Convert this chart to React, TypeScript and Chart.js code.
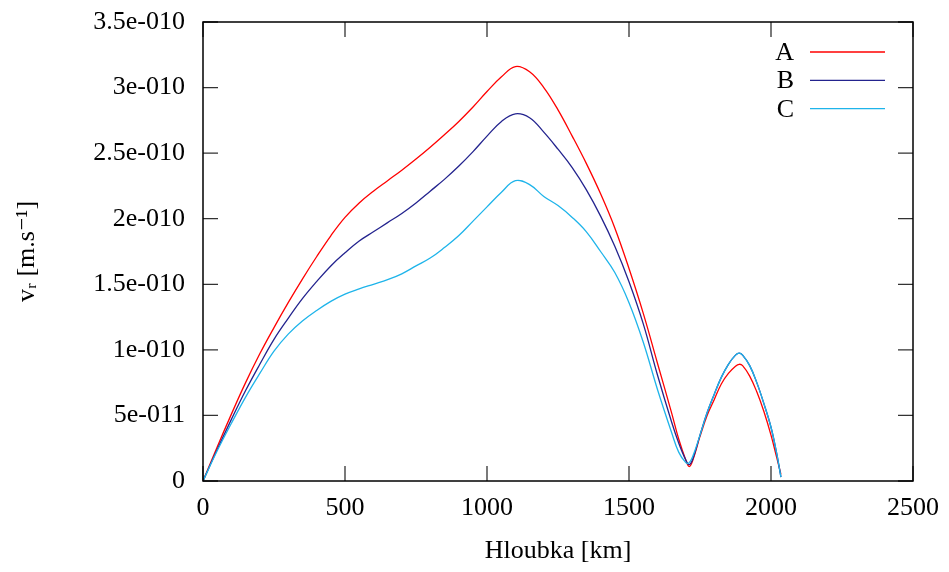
import React, { useEffect, useRef } from 'react';
import { Chart, registerables } from 'chart.js';

Chart.register(...registerables);

// depth in km
const depthKm = [
  0, 50, 100, 150, 200, 250, 300, 350, 400, 450, 500, 550, 600, 650, 700, 750, 800, 850, 900, 950,
  1000, 1050, 1100, 1150, 1200, 1250, 1300, 1350, 1400, 1450, 1500, 1550, 1600, 1650,
  1675, 1700, 1712, 1725, 1750, 1775, 1800, 1825, 1850, 1875, 1888, 1900, 1925, 1950, 1975, 2000, 2020, 2035,
];

// radial velocity values, in units of 1e-11 m/s
const seriesA = [
  0, 2.6, 5.1, 7.5, 9.7, 11.7, 13.6, 15.4, 17.1, 18.7, 20.1, 21.2, 22.1, 22.9, 23.7, 24.55, 25.45, 26.4, 27.4, 28.5,
  29.7, 30.8, 31.6, 31.2, 30.0, 28.3, 26.3, 24.2, 21.9, 19.3, 16.2, 12.8, 9.0, 5.2,
  3.2, 1.6, 1.1, 1.6, 3.4, 5.0, 6.2, 7.4, 8.2, 8.75, 8.9, 8.8, 8.0, 6.8, 5.3, 3.5, 1.8, 0.5,
];
const seriesB = [
  0, 2.4, 4.7, 6.9, 8.9, 10.8, 12.4, 13.9, 15.2, 16.4, 17.4, 18.3, 19.0, 19.7, 20.4, 21.2, 22.1, 23.0, 24.0, 25.1,
  26.3, 27.4, 28.0, 27.7, 26.6, 25.3, 23.9, 22.2, 20.2, 17.9, 15.2, 12.0, 8.1, 4.5,
  2.9, 1.6, 1.25, 1.7, 3.5, 5.2, 6.6, 7.9, 8.9, 9.6, 9.75, 9.6, 8.8, 7.5, 5.9, 4.1, 2.1, 0.3,
];
const seriesC = [
  0, 2.3, 4.4, 6.4, 8.2, 9.9, 11.2, 12.2, 13.0, 13.7, 14.25, 14.65, 15.0, 15.35, 15.8, 16.4, 17.0, 17.8, 18.7, 19.8,
  20.9, 22.0, 22.9, 22.6, 21.7, 21.0, 20.1, 19.0, 17.5, 15.9, 13.6, 10.6, 7.0, 3.7,
  2.2, 1.4, 1.4, 1.9, 3.5, 5.2, 6.6, 7.9, 8.9, 9.6, 9.75, 9.6, 8.8, 7.5, 5.9, 4.1, 2.1, 0.3,
];

const seriesLabels = ['A', 'B', 'C'];
const seriesColors = ['#ff0000', '#23238e', '#1eb4ea'];

const yTickLabels = ['0', '5e-011', '1e-010', '1.5e-010', '2e-010', '2.5e-010', '3e-010', '3.5e-010'];
const xTickLabels = ['0', '500', '1000', '1500', '2000', '2500'];

const FONT = '"Liberation Serif", "DejaVu Serif", serif';

const framePlugin = {
  id: 'gnuplotFrame',
  afterDatasetsDraw(chart: any) {
    const { ctx, chartArea: a, scales } = chart;
    ctx.save();
    // inward ticks, mirrored on all four sides
    ctx.strokeStyle = '#333';
    ctx.lineWidth = 1.3;
    const L = 15;
    scales.x.ticks.forEach((t: any) => {
      const px = scales.x.getPixelForValue(t.value);
      ctx.beginPath();
      ctx.moveTo(px, a.bottom);
      ctx.lineTo(px, a.bottom - L);
      ctx.moveTo(px, a.top);
      ctx.lineTo(px, a.top + L);
      ctx.stroke();
    });
    scales.y.ticks.forEach((t: any) => {
      const py = scales.y.getPixelForValue(t.value);
      ctx.beginPath();
      ctx.moveTo(a.left, py);
      ctx.lineTo(a.left + L, py);
      ctx.moveTo(a.right, py);
      ctx.lineTo(a.right - L, py);
      ctx.stroke();
    });
    // frame
    ctx.strokeStyle = '#000';
    ctx.lineWidth = 1.5;
    ctx.strokeRect(a.left, a.top, a.right - a.left, a.bottom - a.top);
    // legend (gnuplot style: label then sample line)
    const lineEnd = a.right - 28;
    const lineStart = lineEnd - 75;
    const textRight = lineStart - 16;
    ctx.font = '26px ' + FONT;
    ctx.textAlign = 'right';
    ctx.textBaseline = 'alphabetic';
    chart.data.datasets.forEach((ds: any, i: number) => {
      const y = a.top + 30 + i * 28.3;
      ctx.fillStyle = '#000';
      ctx.fillText(ds.label, textRight, y + 8);
      ctx.strokeStyle = ds.borderColor;
      ctx.lineWidth = 1.3;
      ctx.beginPath();
      ctx.moveTo(lineStart, y);
      ctx.lineTo(lineEnd, y);
      ctx.stroke();
    });
    ctx.restore();
  },
};

export default function App() {
  const ref = useRef<HTMLCanvasElement | null>(null);

  useEffect(() => {
    if (!ref.current) return;
    const all = [seriesA, seriesB, seriesC];
    const chart = new Chart(ref.current, {
      type: 'line',
      data: {
        datasets: all.map((s, i) => ({
          label: seriesLabels[i],
          data: depthKm.map((x, j) => ({ x, y: s[j] })),
          borderColor: seriesColors[i],
          backgroundColor: seriesColors[i],
          borderWidth: 1.3,
          pointRadius: 0,
          fill: false,
          tension: 0.4,
          order: 3 - i,
        })),
      },
      options: {
        animation: false,
        responsive: false,
        maintainAspectRatio: false,
        layout: { padding: { top: 22, right: 36, left: 0, bottom: 0 } },
        plugins: {
          legend: { display: false },
          tooltip: { enabled: false },
        },
        scales: {
          x: {
            type: 'linear',
            min: 0,
            max: 2500,
            afterFit: (s: any) => { s.height = 91; s.paddingLeft = 0; s.paddingRight = 0; },
            grid: { display: false, drawTicks: false },
            border: { display: false },
            ticks: {
              stepSize: 500,
              padding: 12,
              color: '#000',
              font: { family: FONT, size: 26 },
              maxRotation: 0,
              autoSkip: false,
              callback: (_v: any, idx: number) => xTickLabels[idx],
            },
            title: {
              display: true,
              text: 'Hloubka [km]',
              color: '#000',
              font: { family: FONT, size: 26 },
              padding: { top: 0, bottom: 5 },
            },
          },
          y: {
            type: 'linear',
            min: 0,
            max: 35,
            afterFit: (s: any) => { s.width = 203; s.paddingTop = 0; s.paddingBottom = 0; },
            grid: { display: false, drawTicks: false },
            border: { display: false },
            ticks: {
              stepSize: 5,
              padding: 18,
              color: '#000',
              font: { family: FONT, size: 26 },
              autoSkip: false,
              callback: (_v: any, idx: number) => yTickLabels[idx],
            },
            title: {
              display: true,
              text: 'vᵣ [m.s⁻¹]',
              color: '#000',
              font: { family: FONT, size: 26 },
              padding: { top: 12, bottom: 0 },
            },
          },
        },
      },
      plugins: [framePlugin],
    });
    return () => chart.destroy();
  }, []);

  return (
    <div style={{ position: 'fixed', left: 0, top: 0, width: 949, height: 572, background: '#fff' }}>
      <canvas ref={ref} width={949} height={572} style={{ width: 949, height: 572, display: 'block' }} />
    </div>
  );
}
